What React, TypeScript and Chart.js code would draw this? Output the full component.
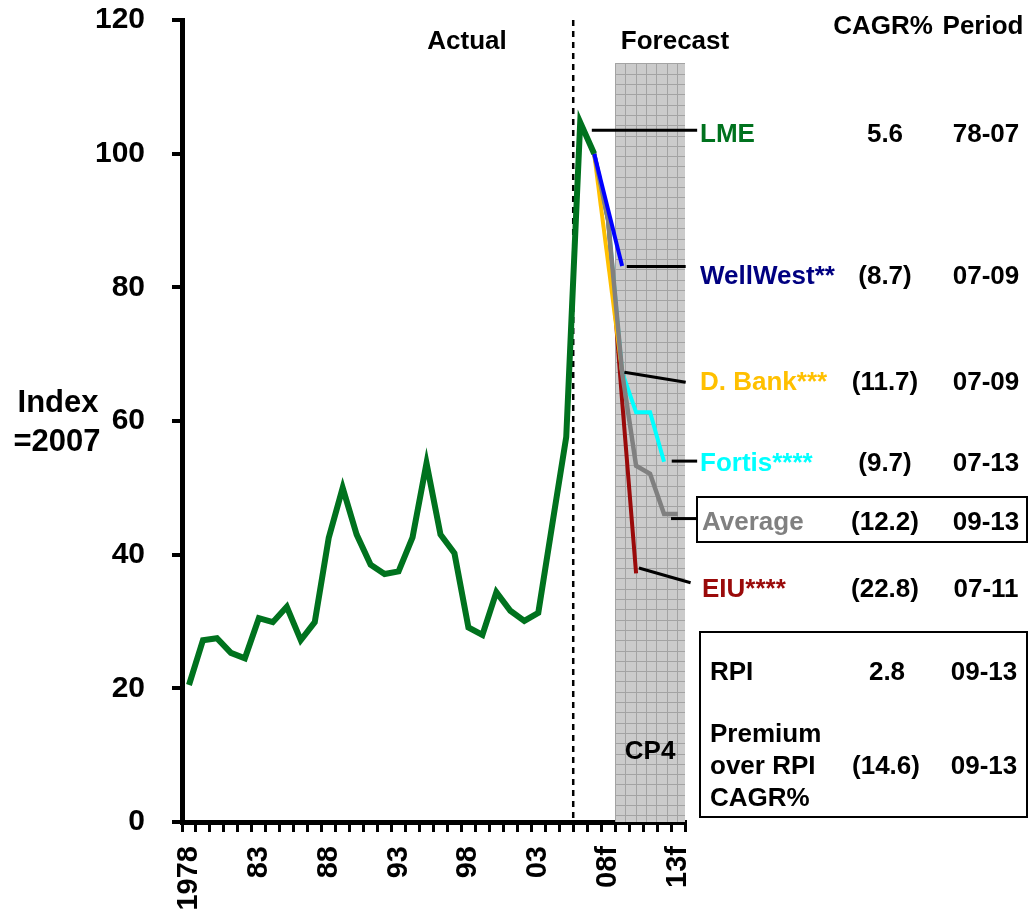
import React, { useEffect, useRef } from 'react';
import { Chart, registerables } from 'chart.js';

Chart.register(...registerables);

// ---------- DATA ----------
const categories = [
  '1978', '1979', '1980', '1981', '1982', '1983', '1984', '1985', '1986', '1987',
  '1988', '1989', '1990', '1991', '1992', '1993', '1994', '1995', '1996', '1997',
  '1998', '1999', '2000', '2001', '2002', '2003', '2004', '2005', '2006', '2007',
  '2008', '2009', '2010', '2011', '2012', '2013',
];
const tickYears = ['1978', '1983', '1988', '1993', '1998', '2003', '2008', '2013'];
const tickLabels = ['1978', '83', '88', '93', '98', '03', '08f', '13f'];

// Actual LME index 1978-2007 (2007 = 100)
const lmeActual = [
  20.5, 27.2, 27.5, 25.3, 24.5, 30.5, 29.9, 32.2, 27.2, 29.9,
  42.5, 50.0, 43.0, 38.5, 37.1, 37.5, 42.6, 53.7, 43.0, 40.2,
  29.1, 28.0, 34.4, 31.6, 30.1, 31.3, 44.5, 57.6, 104.7, 100,
];
// Forecasts 2007-2013
const wellWestF = [100, null, 83.2, null, null, null, null];
const dBankF = [100, null, 67.3, null, null, null, null];
const fortisF = [100, 90, 67.3, 61.3, 61.3, 53.9, null];
const averageF = [100, 90, 67.3, 53.3, 52.1, 46.1, 46.1];
const eiuF = [100, 90, 63.0, 37.2, null, null, null];

const rowNames = ['LME', 'WellWest**', 'D. Bank***', 'Fortis****', 'Average', 'EIU****'];
const rowCagr = ['5.6', '(8.7)', '(11.7)', '(9.7)', '(12.2)', '(22.8)'];
const rowPeriod = ['78-07', '07-09', '07-09', '07-13', '09-13', '07-11'];
const rpiCagr = '2.8';
const rpiPeriod = '09-13';
const premiumCagr = '(14.6)';
const premiumPeriod = '09-13';

// ---------- STYLE ----------
const FONT = '"Liberation Sans", Arial, Helvetica, sans-serif';
const C_GREEN = '#00721E';
const C_BLUE = '#0000FF';
const C_NAVY = '#000080';
const C_YELLOW = '#FFC000';
const C_CYAN = '#00FFFF';
const C_GRAY = '#808080';
const C_RED = '#9A0A0A';
const rowColors = [C_GREEN, C_NAVY, C_YELLOW, C_CYAN, C_GRAY, C_RED];
const rowBaselines = [142, 284, 390, 471, 530, 597];

const pad = (arr: (number | null)[], before: number): (number | null)[] => {
  const out: (number | null)[] = [];
  for (let i = 0; i < before; i++) out.push(null);
  for (const v of arr) out.push(v);
  while (out.length < categories.length) out.push(null);
  return out;
};
const fStart = categories.indexOf('2007');

const annotationPlugin = {
  id: 'annot',
  beforeDatasetsDraw(chart: any) {
    const { ctx, chartArea, scales } = chart;
    const xs = scales.x;
    const ys = scales.y;
    // shaded CP4 area
    const left = xs.getPixelForValue(categories.indexOf('2009') - 0.5);
    const right = chartArea.right;
    const top = ys.getPixelForValue(113.5);
    const bottom = ys.getPixelForValue(0);
    ctx.save();
    ctx.fillStyle = '#CBCBCB';
    ctx.fillRect(left, top, right - left, bottom - top);
    ctx.strokeStyle = '#A3A3A3';
    ctx.lineWidth = 1;
    const step = 10.3;
    ctx.beginPath();
    for (let x = left; x <= right + 0.5; x += step) {
      ctx.moveTo(Math.round(x) + 0.5, top);
      ctx.lineTo(Math.round(x) + 0.5, bottom);
    }
    for (let y = top; y <= bottom + 0.5; y += step) {
      ctx.moveTo(left, Math.round(y) + 0.5);
      ctx.lineTo(right, Math.round(y) + 0.5);
    }
    ctx.stroke();
    // dashed actual/forecast divider
    const dx = xs.getPixelForValue(categories.indexOf('2006') - 0.5);
    ctx.strokeStyle = '#000';
    ctx.lineWidth = 2.5;
    ctx.setLineDash([6, 5]);
    ctx.beginPath();
    ctx.moveTo(dx, chartArea.top);
    ctx.lineTo(dx, chartArea.bottom);
    ctx.stroke();
    ctx.setLineDash([]);
    ctx.restore();
  },
  afterDraw(chart: any) {
    const { ctx, scales } = chart;
    const xs = scales.x;
    const ys = scales.y;
    ctx.save();
    // leader lines [xIndexStart, valueStart, xIndexEnd, valueEnd]
    const leaders = [
      [28.83, 103.5, 36.37, 103.5],
      [31.33, 83.1, 35.55, 83.1],
      [31.16, 67.3, 35.55, 65.8],
      [34.55, 54.0, 36.37, 54.0],
      [34.5, 45.4, 36.3, 45.4],
      [32.2, 38.0, 35.9, 35.8],
    ];
    ctx.strokeStyle = '#000';
    ctx.lineWidth = 3;
    for (const l of leaders) {
      ctx.beginPath();
      ctx.moveTo(xs.getPixelForValue(l[0]), ys.getPixelForValue(l[1]));
      ctx.lineTo(xs.getPixelForValue(l[2]), ys.getPixelForValue(l[3]));
      ctx.stroke();
    }
    // boxes
    ctx.lineWidth = 2;
    ctx.strokeRect(697, 497, 330, 45);
    ctx.strokeRect(700, 632, 327, 185);

    ctx.textBaseline = 'alphabetic';
    ctx.font = `bold 26px ${FONT}`;
    ctx.fillStyle = '#000';
    ctx.textAlign = 'center';
    ctx.fillText('Actual', 467, 49);
    ctx.fillText('Forecast', 675, 49);
    ctx.fillText('CAGR%', 883, 34);
    ctx.fillText('Period', 983, 34);
    ctx.fillText('CP4', xs.getPixelForValue(categories.indexOf('2011')), 759);

    for (let i = 0; i < rowNames.length; i++) {
      const b = rowBaselines[i];
      ctx.textAlign = 'left';
      ctx.fillStyle = rowColors[i];
      ctx.fillText(rowNames[i], i >= 4 ? 702 : 700, b);
      ctx.fillStyle = '#000';
      ctx.textAlign = 'center';
      ctx.fillText(rowCagr[i], 885, b);
      ctx.fillText(rowPeriod[i], 986, b);
    }
    // RPI box
    ctx.textAlign = 'left';
    ctx.fillText('RPI', 710, 680);
    ctx.fillText('Premium', 710, 742);
    ctx.fillText('over RPI', 710, 774);
    ctx.fillText('CAGR%', 710, 806);
    ctx.textAlign = 'center';
    ctx.fillText(rpiCagr, 887, 680);
    ctx.fillText(rpiPeriod, 984, 680);
    ctx.fillText(premiumCagr, 886, 774);
    ctx.fillText(premiumPeriod, 984, 774);

    // y axis title
    ctx.font = `bold 31px ${FONT}`;
    ctx.fillText('Index', 58, 412);
    ctx.fillText('=2007', 57, 451);
    ctx.restore();
  },
};

export default function App() {
  const ref = useRef<HTMLCanvasElement | null>(null);
  useEffect(() => {
    if (!ref.current) return;
    const lineDs = (label: string, data: (number | null)[], color: string, width: number) => ({
      label,
      data,
      borderColor: color,
      backgroundColor: color,
      borderWidth: width,
      pointRadius: 0,
      pointHoverRadius: 0,
      tension: 0,
      spanGaps: true,
      fill: false,
      borderJoinStyle: 'miter' as const,
      borderCapStyle: 'butt' as const,
    });
    const chart = new Chart(ref.current, {
      type: 'line',
      data: {
        labels: categories,
        datasets: [
          lineDs('LME', pad(lmeActual, 0), C_GREEN, 6),
          lineDs('WellWest', pad(wellWestF, fStart), C_BLUE, 4),
          lineDs('Average', pad(averageF, fStart), C_GRAY, 4.5),
          lineDs('D. Bank', pad(dBankF, fStart), C_YELLOW, 4),
          lineDs('Fortis', pad(fortisF, fStart), C_CYAN, 4),
          lineDs('EIU', pad(eiuF, fStart), C_RED, 4),
        ],
      },
      options: {
        animation: false,
        responsive: false,
        maintainAspectRatio: false,
        layout: { padding: { top: 20, right: 344, left: 0, bottom: 0 } },
        plugins: {
          legend: { display: false },
          tooltip: { enabled: false },
        },
        scales: {
          x: {
            type: 'category',
            offset: true,
            grid: {
              offset: true,
              drawOnChartArea: false,
              drawTicks: true,
              tickLength: 10,
              color: '#000',
              lineWidth: 3,
            },
            border: { display: true, color: '#000', width: 5 },
            ticks: {
              autoSkip: false,
              maxRotation: 90,
              minRotation: 90,
              padding: 14,
              color: '#000',
              font: { family: FONT, size: 29, weight: 'bold' },
              callback: (_v: any, i: number) => {
                const k = tickYears.indexOf(categories[i]);
                return k >= 0 ? tickLabels[k] : '';
              },
            },
            afterFit: (s: any) => {
              s.height = 95;
              s.paddingLeft = 0;
              s.paddingRight = 0;
              s.paddingTop = 0;
              s.paddingBottom = 0;
            },
          },
          y: {
            min: 0,
            max: 120,
            grid: {
              drawOnChartArea: false,
              tickLength: 10,
              color: '#000',
              lineWidth: 4,
            },
            border: { display: true, color: '#000', width: 5 },
            ticks: {
              stepSize: 20,
              padding: 27,
              color: '#000',
              font: { family: FONT, size: 30, weight: 'bold' },
            },
            afterFit: (s: any) => {
              s.width = 182;
              s.paddingTop = 0;
              s.paddingBottom = 0;
              s.paddingLeft = 0;
              s.paddingRight = 0;
            },
          },
        },
      },
      plugins: [annotationPlugin],
    });
    return () => chart.destroy();
  }, []);
  return (
    <div style={{ position: 'fixed', left: 0, top: 0, width: 1029, height: 917, background: '#fff' }}>
      <canvas ref={ref} width={1029} height={917} style={{ display: 'block' }} />
    </div>
  );
}
